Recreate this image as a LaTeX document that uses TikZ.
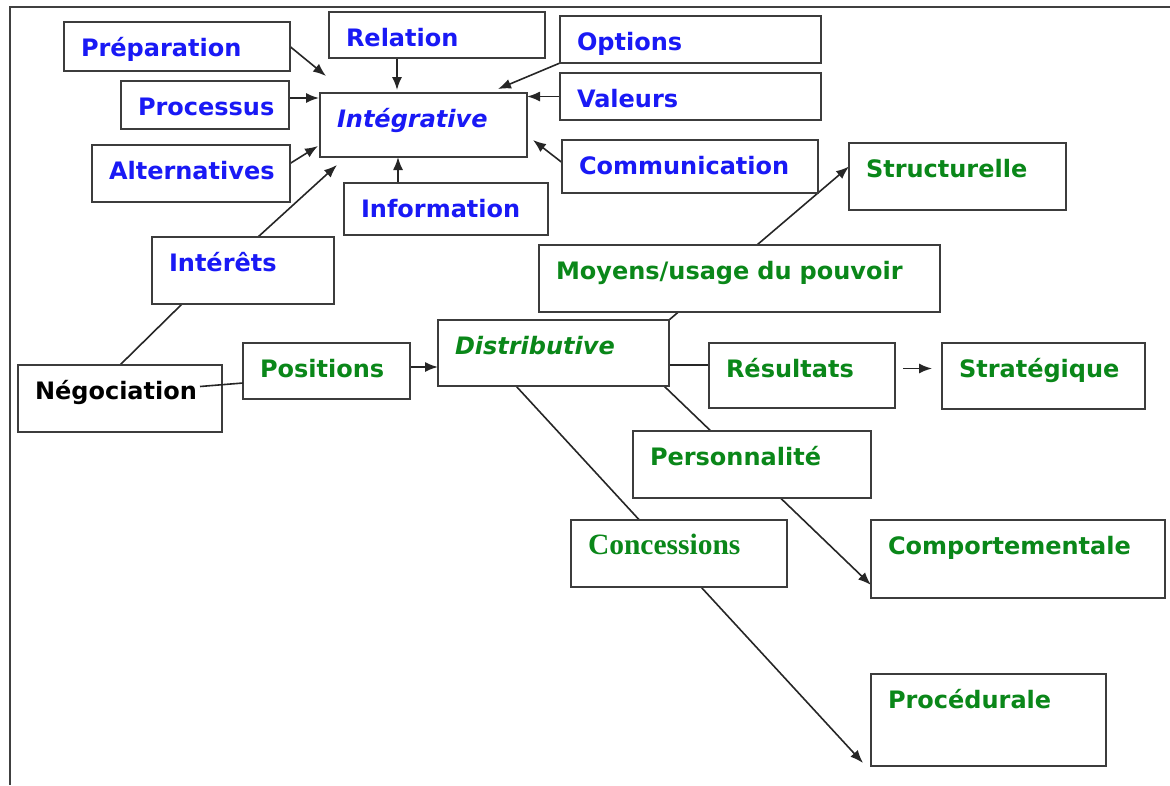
\documentclass[tikz,border=0pt]{standalone}
\usepackage{fontspec}
\setsansfont{DejaVu Sans}
\newfontfamily\timesfont{Liberation Serif}
\usepackage{tikz}
\usetikzlibrary{arrows.meta,backgrounds}
\definecolor{bleu}{RGB}{25,25,245}
\definecolor{vert}{RGB}{10,135,25}
\definecolor{trait}{RGB}{60,60,60}
\tikzset{
	boite/.style = {draw=trait, line width=1.9pt, fill=white, anchor=north west,
		inner xsep=17pt, inner ysep=0pt, outer sep=0pt, align=left,
		text height=34pt, font=\sffamily\bfseries\fontsize{24}{28}\selectfont},
	taille/.style 2 args = {text width=#1pt, text depth=#2pt},% largeur et profondeur du texte
	bte_b/.style = {boite, text=bleu},% branche integrative
	bte_v/.style = {boite, text=vert},% branche distributive
	bte_n/.style = {boite, text=black},% racine
	lien/.style = {draw=black!85, line width=1.6pt},
	fleche/.style = {lien, -{Latex[length=13pt,width=10pt]}},
	cadre/.style = {draw=black!75, line width=2pt}
}

\begin{document}
\begin{tikzpicture}[x=1pt, y=-1pt]
\useasboundingbox (0,0) rectangle (1170,785);
\draw[cadre] (1170,7) -- (10,7) -- (10,785);
% branche integrative
\node[bte_b, taille={192}{15}] (prep) at (64,22) {Préparation};
\node[bte_b, taille={182}{12}] (rel) at (329,12) {Relation};
\node[bte_b, taille={134}{14}] (proc) at (121,81) {Processus};
\node[bte_b, taille={173}{30}] (integ) at (320,93) {\textit{Intégrative}};
\node[bte_b, taille={164}{23}] (alt) at (92,145) {Alternatives};
\node[bte_b, taille={170}{18}] (info) at (344,183) {Information};
\node[bte_b, taille={227}{13}] (opt) at (560,16) {Options};
\node[bte_b, taille={227}{13}] (val) at (560,73) {Valeurs};
\node[bte_b, taille={222}{19}] (comm) at (562,140) {Communication};
\node[bte_b, taille={148}{33}] (inter) at (152,237) {Intérêts};
% racine
\node[bte_n, taille={170}{33}] (nego) at (18,365) {Négociation};
% branche distributive
\node[bte_v, taille={133}{22}] (pos) at (243,343) {Positions};
\node[bte_v, taille={197}{32}] (dist) at (438,320) {\textit{Distributive}};
\node[bte_v, taille={183}{33}] (struct) at (849,143) {Structurelle};
\node[bte_v, taille={367}{33}] (moy) at (539,245) {Moyens/usage du pouvoir};
\node[bte_v, taille={152}{31}] (res) at (709,343) {Résultats};
\node[bte_v, taille={169}{32}] (strat) at (942,343) {Stratégique};
\node[bte_v, taille={204}{33}] (pers) at (633,431) {Personnalité};
\node[bte_v, taille={182}{33}] (conc) at (571,520) {\fontsize{29.5}{33}\selectfont\timesfont Concessions};
\node[bte_v, taille={260}{44}] (comp) at (871,520) {Comportementale};
\node[bte_v, taille={201}{58}] (procd) at (871,674) {Procédurale};

\coordinate (prep_in) at (326,76);
\coordinate (rel_in) at (397,90);
\coordinate (proc_in) at (319,98);
\coordinate (alt_in) at (318,146);
\coordinate (inter_in) at (337,165);
\coordinate (info_x) at (398,0);
\coordinate (opt_in) at (498,89);
\coordinate (comm_in) at (533,140);

\begin{scope}[on background layer]
\draw[fleche] (prep.east) -- (prep_in);
\draw[fleche] (rel.south -| rel_in) -- (rel_in);
\draw[fleche] (proc.east |- proc_in) -- (proc_in);
\draw[fleche] ([yshift=10pt]alt.east) -- (alt_in);
\draw[fleche] ([xshift=106pt]inter.north west) -- (inter_in);
\draw[fleche] (info.north -| info_x) -- (integ.south -| info_x);
\draw[fleche] (opt.south west) -- (opt_in);
\draw[fleche] (val.west) -- (val.west -| integ.east);
\draw[fleche] ([yshift=4pt]comm.west) -- (comm_in);
\draw[lien] (nego.north) -- ([xshift=30pt]inter.south west);
\draw[fleche] ([yshift=4pt]pos.east) -- ([yshift=4pt]pos.east -| dist.west);
\draw[fleche] (dist.north east) -- ([yshift=10pt]struct.west);
\draw[lien] ([yshift=-12pt]dist.east) -- ([yshift=-12pt]dist.east -| res.west);
\draw[fleche, shorten <=8pt, shorten >=10pt] ([yshift=7pt]res.east) -- ([yshift=7pt]res.east -| strat.west);
\draw[fleche] ([xshift=-5pt]dist.south east) -- ([yshift=13pt]comp.south west);
\draw[fleche] ([xshift=78pt]dist.south west) -- ([shift={(-8pt,3pt)}]procd.south west);
\end{scope}
\draw[lien] ([shift={(-22,-12)}]nego.east) -- ([yshift=-12pt]pos.west);
\end{tikzpicture}
\end{document}
